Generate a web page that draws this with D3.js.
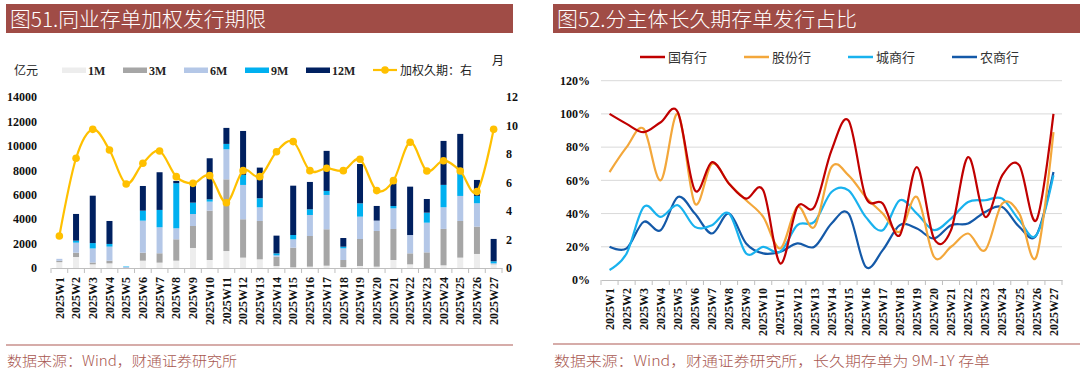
<!DOCTYPE html>
<html><head><meta charset="utf-8">
<script src="https://cdn.jsdelivr.net/npm/d3@7"></script>
<style>
html,body{margin:0;padding:0;background:#fff;}
svg{display:block;}
</style></head>
<body>
<svg id="c" width="1080" height="374"></svg>
<script>
// ---------- data ----------
const weeks = ["2025W1","2025W2","2025W3","2025W4","2025W5","2025W6","2025W7","2025W8","2025W9","2025W10","2025W11","2025W12","2025W13","2025W14","2025W15","2025W16","2025W17","2025W18","2025W19","2025W20","2025W21","2025W22","2025W23","2025W24","2025W25","2025W26","2025W27"];
const tenorNames = ["1M","3M","6M","9M","12M"];
const m1  = [480,900,300,380,0,600,440,600,1640,655,1390,850,710,160,55,110,190,80,165,110,655,300,0,220,850,1150,300];
const m3  = [120,355,150,220,0,655,765,1750,1800,4040,5870,3140,3140,765,1610,2510,2980,575,2210,2920,2540,900,1280,2980,3000,2240,30];
const m6  = [150,820,1150,1150,80,2620,2130,900,980,740,2460,2810,1120,110,680,1720,2810,955,1830,850,1690,1500,2430,1775,2050,1910,55];
const m9  = [0,165,440,220,40,820,1420,3690,930,190,440,820,740,165,355,465,330,135,1090,0,190,0,820,1830,1860,600,165];
const m12 = [0,2185,3880,1880,0,2020,3085,190,1580,3360,1310,3600,2510,1450,4040,2240,3280,710,3220,1200,1860,3960,1120,3600,3220,1310,1830];
const duration = [2.25,7.7,9.73,8.28,5.9,7.35,8.21,6.41,5.94,6.48,4.58,6.83,6.41,8.16,8.87,6.83,7.0,6.83,7.63,5.43,6.13,8.82,6.81,7.53,6.81,5.36,9.73];
const leftTicks = [0,2000,4000,6000,8000,10000,12000,14000];
const rightTicks = [0,2,4,6,8,10,12];

const seriesNames = ["国有行","股份行","城商行","农商行"];
const soe   = [100,94,89,95,101,54,71,58,49,54,10,44,44,78,96,50,46,27,68,25,30,74,38,63,69,36,100];
const joint = [65,80,91,60,100,46,70,58,48,38,19,44,32,68,63,50,40,29,50,14,20,28,18,46,40,14,89];
const city  = [6,16,44,38,45,32,33,40,16,20,17,33,35,53,54,38,30,48,40,30,37,47,48,49,36,27,63];
const rural = [20,19,35,30,50,40,28,40,22,16,17,22,20,34,40,8,18,33,31,25,33,34,41,44,32,27,65];
const pctTicks = [0,20,40,60,80,100,120];

// ---------- style ----------
const tenorColors = ["#ededed","#a6a6a6","#b4c7e7","#00b0f0","#002060"];
const lineColor = "#ffc000";
const seriesColors = ["#c00000","#f3a73b","#19b2ee","#1459a8"];
const serif = "'Liberation Serif','Times New Roman',serif";
const cjk = "'Noto Sans CJK SC','Noto Sans',sans-serif";
const titleBg = "#a04c46";
const footColor = "#a8574f";

const svg = d3.select("#c");
svg.append("rect").attr("width",1080).attr("height",374).attr("fill","#fff");

// ---------- titles & footers ----------
function header(x0,x1,text,tl){
  svg.append("rect").attr("x",x0).attr("y",4).attr("width",x1-x0).attr("height",29).attr("fill",titleBg);
  svg.append("text").attr("x",x0+4).attr("y",27).attr("fill","#fff")
    .attr("font-family",cjk).attr("font-size",20).attr("font-weight",300)
    .attr("textLength",tl).attr("lengthAdjust","spacingAndGlyphs").text(text);
}
header(6,513,"图51.同业存单加权发行期限",256);
header(553,1080,"图52.分主体长久期存单发行占比",300);
function footer(x0,x1,y,text,tl){
  svg.append("line").attr("x1",x0).attr("x2",x1).attr("y1",y).attr("y2",y)
    .attr("stroke","#c9918c").attr("stroke-width",1.5);
  svg.append("text").attr("x",x0+1).attr("y",366).attr("fill",footColor)
    .attr("font-family",cjk).attr("font-size",14).attr("font-weight",300)
    .attr("textLength",tl).attr("lengthAdjust","spacingAndGlyphs").text(text);
}
footer(6,513,345,"数据来源：Wind，财通证券研究所",230);
footer(553,1080,344,"数据来源：Wind，财通证券研究所，长久期存单为 9M-1Y 存单",436);

// ---------- left chart ----------
const xL = d3.scaleBand().domain(weeks).range([51,502]).padding(0);
const yL = d3.scaleLinear().domain([0,14000]).range([268,97]);
const yR = d3.scaleLinear().domain([0,12]).range([268,97]);
const barW = 6;

const rows = weeks.map((w,i)=>({week:w,"1M":m1[i],"3M":m3[i],"6M":m6[i],"9M":m9[i],"12M":m12[i]}));
const stack = d3.stack().keys(tenorNames)(rows);
const gL = svg.append("g");
stack.forEach((layer,k)=>{
  gL.append("g").attr("fill",tenorColors[k]).selectAll("rect").data(layer).join("rect")
    .attr("x",d=>xL(d.data.week)+xL.bandwidth()/2-barW/2)
    .attr("width",barW)
    .attr("y",d=>yL(d[1]))
    .attr("height",d=>Math.max(0,yL(d[0])-yL(d[1])));
});

// x axis
const axL = gL.append("g").attr("transform","translate(0,268)")
  .call(d3.axisBottom(xL).tickSize(0).tickPadding(0));
axL.select(".domain").attr("stroke","#bfbfbf");
axL.selectAll(".tick text").attr("font-family",serif).attr("font-weight","bold").attr("font-size",12)
  .attr("fill","#111").attr("text-anchor","end").attr("transform","rotate(-90)")
  .attr("x",-9).attr("y",0).attr("dy","0.35em");
gL.append("g").selectAll("line").data(d3.range(weeks.length+1)).join("line")
  .attr("x1",i=>51+i*xL.step()).attr("x2",i=>51+i*xL.step())
  .attr("y1",268).attr("y2",273).attr("stroke","#bfbfbf");

// y axes
const ayL = gL.append("g").attr("transform","translate(51,0)")
  .call(d3.axisLeft(yL).tickValues(leftTicks).tickSize(0).tickPadding(14).tickFormat(d3.format("d")));
ayL.select(".domain").remove();
ayL.selectAll("text").attr("font-family",serif).attr("font-weight","bold").attr("font-size",12).attr("fill","#111");
const ayR = gL.append("g").attr("transform","translate(502,0)")
  .call(d3.axisRight(yR).tickValues(rightTicks).tickSize(0).tickPadding(4));
ayR.select(".domain").remove();
ayR.selectAll("text").attr("font-family",serif).attr("font-weight","bold").attr("font-size",12).attr("fill","#111");

// duration line
const cx = w=>xL(w)+xL.bandwidth()/2;
gL.append("path").datum(duration)
  .attr("fill","none").attr("stroke",lineColor).attr("stroke-width",2.2)
  .attr("d",d3.line().x((d,i)=>cx(weeks[i])).y(d=>yR(d)).curve(d3.curveCatmullRom.alpha(0)));
gL.append("g").selectAll("circle").data(duration).join("circle")
  .attr("cx",(d,i)=>cx(weeks[i])).attr("cy",d=>yR(d)).attr("r",3.8).attr("fill",lineColor);

// left legend
svg.append("text").attr("x",14).attr("y",75).attr("font-family",cjk).attr("font-size",12).attr("fill","#222").text("亿元");
svg.append("text").attr("x",492).attr("y",65).attr("font-family",cjk).attr("font-size",12).attr("fill","#222").text("月");
const legX = [62,123,184,245,306];
tenorNames.forEach((n,k)=>{
  svg.append("rect").attr("x",legX[k]).attr("y",67.5).attr("width",24).attr("height",5.5).attr("fill",tenorColors[k]);
  svg.append("text").attr("x",legX[k]+26).attr("y",75).attr("font-family",serif).attr("font-weight","bold")
    .attr("font-size",12).attr("fill","#222").text(n);
});
svg.append("line").attr("x1",373).attr("x2",397).attr("y1",70).attr("y2",70).attr("stroke",lineColor).attr("stroke-width",2.2);
svg.append("circle").attr("cx",385).attr("cy",70).attr("r",3.8).attr("fill",lineColor);
svg.append("text").attr("x",400).attr("y",75).attr("font-family",cjk).attr("font-size",12).attr("fill","#222").text("加权久期：右");

// ---------- right chart ----------
const xR = d3.scaleBand().domain(weeks).range([601,1062]).padding(0);
const yP = d3.scaleLinear().domain([0,120]).range([280,80.7]);
const gR = svg.append("g");
gR.append("g").selectAll("line").data(pctTicks.filter(d=>d>0)).join("line")
  .attr("x1",601).attr("x2",1062).attr("y1",d=>yP(d)).attr("y2",d=>yP(d))
  .attr("stroke","#d9d9d9").attr("stroke-width",1);
const ayP = gR.append("g").attr("transform","translate(601,0)")
  .call(d3.axisLeft(yP).tickValues(pctTicks).tickSize(0).tickPadding(11).tickFormat(d=>d+"%"));
ayP.select(".domain").remove();
ayP.selectAll("text").attr("font-family",serif).attr("font-weight","bold").attr("font-size",12).attr("fill","#111");
const axR = gR.append("g").attr("transform","translate(0,280)")
  .call(d3.axisBottom(xR).tickSize(0).tickPadding(0));
axR.select(".domain").attr("stroke","#bfbfbf");
axR.selectAll(".tick text").attr("font-family",serif).attr("font-weight","bold").attr("font-size",12)
  .attr("fill","#111").attr("text-anchor","end").attr("transform","rotate(-90)")
  .attr("x",-8).attr("y",0).attr("dy","0.35em");
gR.append("g").selectAll("line").data(d3.range(weeks.length+1)).join("line")
  .attr("x1",i=>601+i*xR.step()).attr("x2",i=>601+i*xR.step())
  .attr("y1",280).attr("y2",285).attr("stroke","#bfbfbf");

const cxR = w=>xR(w)+xR.bandwidth()/2;
const series = [soe,joint,city,rural];
const drawOrder = [3,2,1,0];
drawOrder.forEach(k=>{
  gR.append("path").datum(series[k]).attr("fill","none").attr("stroke",seriesColors[k]).attr("stroke-width",2.2)
    .attr("stroke-linejoin","round")
    .attr("d",d3.line().x((d,i)=>cxR(weeks[i])).y(d=>yP(d)).curve(d3.curveCatmullRom.alpha(0)));
});

// right legend
const rLegX = [640,744,848,952];
seriesNames.forEach((n,k)=>{
  svg.append("line").attr("x1",rLegX[k]).attr("x2",rLegX[k]+25).attr("y1",57).attr("y2",57)
    .attr("stroke",seriesColors[k]).attr("stroke-width",2.5);
  svg.append("text").attr("x",rLegX[k]+28).attr("y",61.5).attr("font-family",cjk).attr("font-size",13)
    .attr("fill","#333").text(n);
});
</script>
</body></html>
